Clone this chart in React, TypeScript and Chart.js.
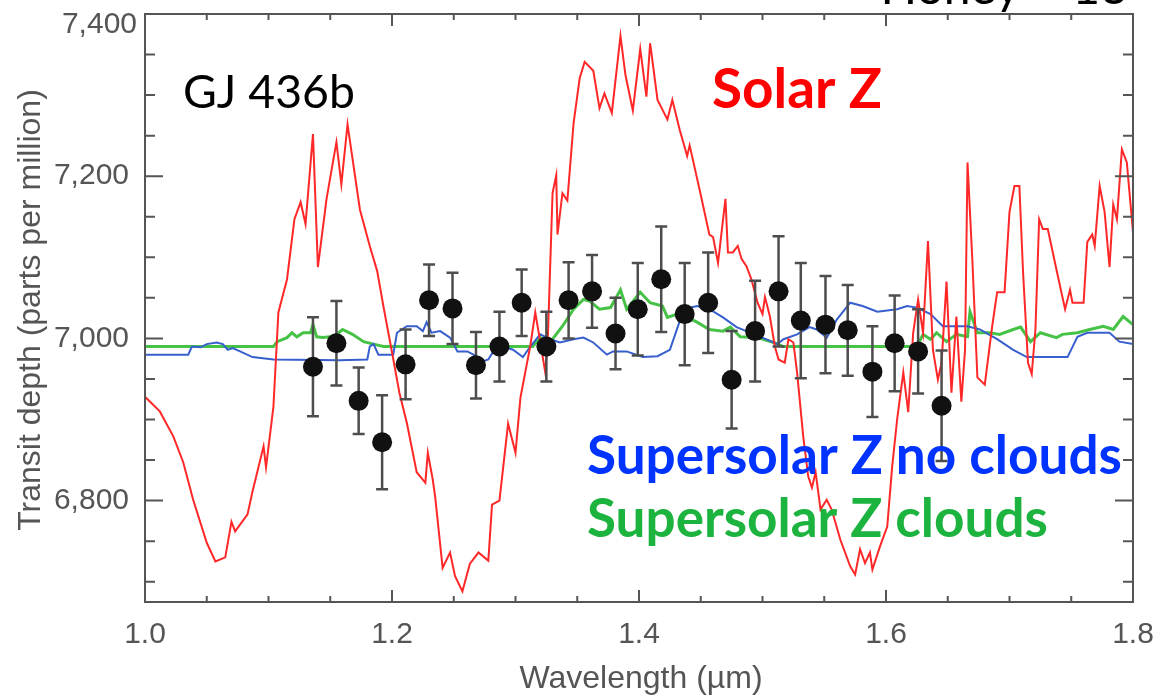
import React, { useEffect, useRef } from "react";
import { Chart, registerables } from "chart.js";

Chart.register(...registerables);

// ---- Data ----
const obsWavelength = [1.136, 1.155, 1.173, 1.192, 1.211, 1.230, 1.249, 1.268, 1.287, 1.305, 1.325, 1.343, 1.362, 1.381,
  1.399, 1.418, 1.437, 1.456, 1.475, 1.494, 1.513, 1.531, 1.551, 1.569, 1.589, 1.607, 1.626, 1.645];
const obsDepth = [6965, 6994, 6923, 6872, 6968, 7047, 7037, 6967, 6990, 7044, 6990, 7047, 7058, 7006,
  7036, 7073, 7030, 7044, 6949, 7009, 7058, 7022, 7017, 7010, 6959, 6994, 6984, 6917];
const obsError = [61, 52, 41, 58, 43, 44, 44, 41, 43, 41, 43, 47, 45, 44,
  57, 65, 63, 62, 60, 62, 68, 71, 60, 56, 56, 59, 52, 68];

const solarWavelength = [1.000, 1.012, 1.023, 1.031, 1.039, 1.050, 1.057, 1.065, 1.070, 1.073, 1.083, 1.087, 1.096, 1.098,
  1.104, 1.108, 1.115, 1.121, 1.126, 1.130, 1.136, 1.140, 1.147, 1.155, 1.159, 1.164, 1.174, 1.182, 1.188, 1.193,
  1.200, 1.206, 1.212, 1.220, 1.227, 1.229, 1.233, 1.235, 1.241, 1.247, 1.251, 1.257, 1.263, 1.270, 1.278, 1.281,
  1.287, 1.294, 1.300, 1.304, 1.312, 1.316, 1.320, 1.324, 1.326, 1.330, 1.333, 1.334, 1.338, 1.342, 1.347, 1.352,
  1.356, 1.363, 1.368, 1.372, 1.378, 1.385, 1.389, 1.395, 1.401, 1.406, 1.409, 1.415, 1.423, 1.427, 1.433, 1.439,
  1.441, 1.449, 1.457, 1.460, 1.464, 1.470, 1.472, 1.476, 1.480, 1.483, 1.487, 1.491, 1.496, 1.500, 1.502, 1.506,
  1.510, 1.513, 1.518, 1.521, 1.525, 1.528, 1.533, 1.537, 1.540, 1.543, 1.547, 1.552, 1.556, 1.563, 1.571, 1.575,
  1.579, 1.583, 1.587, 1.589, 1.595, 1.601, 1.605, 1.609, 1.614, 1.618, 1.622, 1.626, 1.630, 1.634, 1.638, 1.642,
  1.645, 1.649, 1.653, 1.657, 1.661, 1.664, 1.666, 1.670, 1.674, 1.680, 1.686, 1.690, 1.696, 1.700, 1.704, 1.708,
  1.711, 1.715, 1.718, 1.721, 1.724, 1.727, 1.731, 1.738, 1.745, 1.749, 1.751, 1.760, 1.763, 1.767, 1.769, 1.773,
  1.777, 1.781, 1.784, 1.787, 1.791, 1.795, 1.800];
const solarDepth = [6928, 6910, 6879, 6847, 6801, 6748, 6725, 6730, 6774, 6762, 6783, 6811, 6867, 6841,
  6916, 7032, 7073, 7147, 7168, 7141, 7252, 7088, 7172, 7242, 7190, 7264, 7159, 7114, 7083, 7040,
  6983, 6933, 6896, 6835, 6822, 6859, 6826, 6804, 6717, 6736, 6707, 6688, 6722, 6736, 6726, 6795,
  6800, 6895, 6859, 6927, 6991, 7032, 6996, 6959, 6991, 7179, 7201, 7128, 7179, 7170, 7265, 7321,
  7341, 7330, 7284, 7302, 7278, 7373, 7325, 7281, 7357, 7298, 7364, 7294, 7270, 7294, 7257, 7225,
  7238, 7184, 7128, 7125, 7093, 7172, 7106, 7106, 7114, 7098, 7089, 7073, 7044, 7030, 7051, 7027,
  6990, 6974, 6970, 6999, 6995, 6958, 6879, 6830, 6816, 6835, 6789, 6801, 6789, 6752, 6719, 6709,
  6740, 6723, 6736, 6715, 6743, 6768, 6842, 6900, 6958, 6909, 7007, 7048, 7007, 7120, 6986, 6949,
  6970, 7070, 6933, 7027, 6922, 6986, 7217, 7094, 6952, 6943, 7015, 7057, 7057, 7156, 7188, 7188,
  7081, 6970, 6956, 7011, 7147, 7135, 7135, 7085, 7036, 7060, 7044, 7044, 7119, 7128, 7114, 7188,
  7156, 7088, 7165, 7147, 7233, 7217, 7131];

const noCloudWavelength = [1.000, 1.035, 1.038, 1.045, 1.050, 1.058, 1.063, 1.067, 1.071, 1.077, 1.087, 1.104, 1.158, 1.180,
  1.182, 1.185, 1.189, 1.201, 1.204, 1.212, 1.220, 1.225, 1.228, 1.232, 1.239, 1.247, 1.253, 1.261, 1.266, 1.274,
  1.278, 1.282, 1.290, 1.298, 1.306, 1.312, 1.320, 1.328, 1.336, 1.347, 1.355, 1.363, 1.374, 1.379, 1.390, 1.403,
  1.415, 1.425, 1.432, 1.436, 1.447, 1.457, 1.468, 1.479, 1.487, 1.500, 1.512, 1.517, 1.528, 1.538, 1.544, 1.552,
  1.560, 1.571, 1.581, 1.593, 1.609, 1.617, 1.625, 1.636, 1.646, 1.666, 1.676, 1.690, 1.703, 1.714, 1.747, 1.755,
  1.763, 1.781, 1.789, 1.800];
const noCloudDepth = [6980, 6980, 6990, 6989, 6993, 6995, 6993, 6986, 6988, 6984, 6977, 6974, 6973, 6974,
  6990, 6993, 6980, 6980, 7007, 7015, 7015, 7009, 7020, 7007, 7009, 7001, 6984, 6984, 6980, 6972,
  6974, 6984, 6990, 6986, 6977, 6990, 7005, 6999, 6995, 6999, 7001, 6995, 6980, 6984, 6984, 6977,
  6978, 6986, 7017, 7036, 7040, 7036, 7026, 7014, 7009, 7001, 6993, 6999, 7005, 7014, 7011, 7001,
  7023, 7044, 7040, 7033, 7036, 7040, 7038, 7030, 7015, 7015, 7011, 6999, 6986, 6977, 6977, 7002,
  7007, 7007, 6996, 6993];

const cloudWavelength = [1.000, 1.104, 1.107, 1.115, 1.119, 1.123, 1.128, 1.134, 1.136, 1.139, 1.144, 1.150, 1.155, 1.160,
  1.168, 1.177, 1.185, 1.193, 1.314, 1.320, 1.328, 1.338, 1.347, 1.355, 1.360, 1.368, 1.377, 1.385, 1.390, 1.401,
  1.409, 1.419, 1.423, 1.431, 1.439, 1.447, 1.457, 1.468, 1.474, 1.482, 1.496, 1.509, 1.517, 1.625, 1.630, 1.636,
  1.641, 1.649, 1.657, 1.666, 1.668, 1.674, 1.684, 1.692, 1.703, 1.709, 1.717, 1.725, 1.738, 1.743, 1.755, 1.765,
  1.776, 1.784, 1.792, 1.800];
const cloudDepth = [6990, 6990, 6996, 7001, 7007, 7002, 7007, 7007, 7017, 7002, 7001, 7002, 7005, 7011,
  7005, 6996, 6993, 6990, 6990, 7001, 6995, 7015, 7036, 7048, 7046, 7036, 7038, 7060, 7036, 7057,
  7044, 7040, 7026, 7030, 7026, 7020, 7011, 7009, 7014, 7002, 7001, 6995, 6990, 6990, 7005, 6999,
  7007, 6996, 7005, 7002, 7033, 7007, 7007, 7005, 7011, 7014, 6996, 7007, 7001, 7005, 7007, 7011,
  7015, 7011, 7027, 7017];

const xMajorTicks = [1.0, 1.2, 1.4, 1.6, 1.8];
const xMinorTicks = [1.05, 1.1, 1.15, 1.25, 1.3, 1.35, 1.45, 1.5, 1.55, 1.65, 1.7, 1.75];
const yMajorTicks = [6800, 7000, 7200, 7400];
const yMinorTicks = [6700, 6750, 6850, 6900, 6950, 7050, 7100, 7150, 7250, 7300, 7350];

const AXIS_FONT = "'Liberation Sans', Arial, sans-serif";
const SLIDE_FONT = "Lato, 'Open Sans', sans-serif";
const AXIS_GRAY = "#555555";

function pairs(xs: number[], ys: number[]) {
  return xs.map((x, i) => ({ x, y: ys[i] }));
}

function fitText(ctx: CanvasRenderingContext2D, text: string, x: number, y: number, width: number, weight: string, color: string) {
  ctx.font = `${weight} 100px ${SLIDE_FONT}`;
  const w = ctx.measureText(text).width;
  const size = (100 * width) / w;
  ctx.font = `${weight} ${size}px ${SLIDE_FONT}`;
  ctx.fillStyle = color;
  ctx.textAlign = "left";
  ctx.textBaseline = "alphabetic";
  ctx.fillText(text, x, y);
}

const overlayPlugin = {
  id: "overlay",
  beforeDatasetDraw(chart: any, args: any) {
    if (args.index !== 0) return;
    const { ctx, scales } = chart;
    const xs = scales.x, ys = scales.y;
    ctx.save();
    ctx.strokeStyle = "#4d4d4d";
    ctx.lineWidth = 2.5;
    obsWavelength.forEach((w, i) => {
      const px = xs.getPixelForValue(w);
      const top = ys.getPixelForValue(obsDepth[i] + obsError[i]);
      const bot = ys.getPixelForValue(obsDepth[i] - obsError[i]);
      ctx.beginPath();
      ctx.moveTo(px, top); ctx.lineTo(px, bot);
      ctx.moveTo(px - 6, top); ctx.lineTo(px + 6, top);
      ctx.moveTo(px - 6, bot); ctx.lineTo(px + 6, bot);
      ctx.stroke();
    });
    ctx.restore();
  },
  afterDraw(chart: any) {
    const { ctx, chartArea: a, scales } = chart;
    const xs = scales.x, ys = scales.y;
    ctx.save();
    // frame
    ctx.strokeStyle = AXIS_GRAY;
    ctx.lineWidth = 2;
    ctx.strokeRect(a.left, a.top, a.right - a.left, a.bottom - a.top);
    // ticks (inward)
    ctx.beginPath();
    const yTick = (v: number, len: number) => {
      const py = ys.getPixelForValue(v);
      ctx.moveTo(a.left, py); ctx.lineTo(a.left + len, py);
      ctx.moveTo(a.right, py); ctx.lineTo(a.right - len, py);
    };
    const xTick = (v: number, len: number) => {
      const px = xs.getPixelForValue(v);
      ctx.moveTo(px, a.bottom); ctx.lineTo(px, a.bottom - len);
      ctx.moveTo(px, a.top); ctx.lineTo(px, a.top + len);
    };
    yMajorTicks.forEach((v) => yTick(v, 18));
    yMinorTicks.forEach((v) => yTick(v, 10));
    xMajorTicks.forEach((v) => xTick(v, 12));
    xMinorTicks.forEach((v) => xTick(v, 6));
    ctx.stroke();

    // top y label (shifted down like the reference)
    ctx.fillStyle = AXIS_GRAY;
    ctx.font = `30px ${AXIS_FONT}`;
    ctx.textAlign = "right";
    ctx.textBaseline = "middle";
    ctx.fillText((7400).toLocaleString("en-US"), a.left - 8, a.top + 11);

    // axis titles
    ctx.font = `32px ${AXIS_FONT}`;
    ctx.textAlign = "center";
    ctx.textBaseline = "middle";
    ctx.fillText("Wavelength (\u00b5m)", (a.left + a.right) / 2 + 2, 679);
    ctx.save();
    ctx.translate(31, 310);
    ctx.rotate(-Math.PI / 2);
    ctx.fillText("Transit depth (parts per million)", 0, 0);
    ctx.restore();

    // slide annotations
    fitText(ctx, "GJ 436b", 183, 108, 172, "normal", "#000000");
    fitText(ctx, "Solar Z", 712, 108, 170, "bold", "#ff0000");
    fitText(ctx, "Supersolar Z no clouds", 587, 474, 535, "bold", "#0033ff");
    fitText(ctx, "Supersolar Z clouds", 587, 537, 461, "bold", "#1db33f");
    ctx.font = `48px ${SLIDE_FONT}`;
    ctx.fillStyle = "#000";
    ctx.textAlign = "right";
    ctx.textBaseline = "alphabetic";
    ctx.fillText("Honey – 13", 1128, 4);
    ctx.restore();
  },
};

export default function App() {
  const ref = useRef<HTMLCanvasElement | null>(null);
  useEffect(() => {
    if (!ref.current) return;
    const chart = new Chart(ref.current, {
      type: "scatter",
      data: {
        datasets: [
          {
            label: "Observed",
            data: pairs(obsWavelength, obsDepth),
            backgroundColor: "#111111",
            borderWidth: 0,
            pointRadius: 10,
            pointHoverRadius: 10,
          },
          {
            type: "line",
            label: "Solar Z",
            data: pairs(solarWavelength, solarDepth),
            borderColor: "rgb(255,40,40)",
            borderWidth: 2,
            pointRadius: 0,
            tension: 0,
            fill: false,
          },
          {
            type: "line",
            label: "Supersolar Z no clouds",
            data: pairs(noCloudWavelength, noCloudDepth),
            borderColor: "rgb(55,95,205)",
            borderWidth: 2,
            pointRadius: 0,
            tension: 0,
            fill: false,
          },
          {
            type: "line",
            label: "Supersolar Z clouds",
            data: pairs(cloudWavelength, cloudDepth),
            borderColor: "rgb(70,195,70)",
            borderWidth: 3,
            pointRadius: 0,
            tension: 0,
            fill: false,
          },
        ] as any,
      },
      options: {
        responsive: false,
        maintainAspectRatio: false,
        animation: false,
        layout: { padding: { top: 14, right: 22, left: 0, bottom: 0 } },
        plugins: { legend: { display: false }, tooltip: { enabled: false } },
        scales: {
          x: {
            type: "linear",
            min: 1.0,
            max: 1.8,
            afterBuildTicks: (s: any) => { s.ticks = xMajorTicks.map((v) => ({ value: v })); },
            afterFit: (s: any) => { s.height = 95; s.paddingLeft = 0; s.paddingRight = 0; },
            grid: { display: false },
            border: { display: false },
            ticks: {
              color: AXIS_GRAY,
              font: { family: AXIS_FONT, size: 30 },
              padding: 7,
              maxRotation: 0,
              autoSkip: false,
              callback: (v: any) => Number(v).toFixed(1),
            },
          },
          y: {
            type: "linear",
            min: 6675,
            max: 7400,
            afterBuildTicks: (s: any) => { s.ticks = yMajorTicks.map((v) => ({ value: v })); },
            afterFit: (s: any) => { s.width = 145; s.paddingTop = 0; s.paddingBottom = 0; },
            grid: { display: false },
            border: { display: false },
            ticks: {
              color: AXIS_GRAY,
              font: { family: AXIS_FONT, size: 30 },
              padding: 8,
              autoSkip: false,
              callback: (v: any) => (Number(v) === 7400 ? "" : Number(v).toLocaleString("en-US")),
            },
          },
        },
      } as any,
      plugins: [overlayPlugin],
    });
    return () => chart.destroy();
  }, []);

  return (
    <div style={{ position: "fixed", left: 0, top: 0, width: 1155, height: 697, background: "#fff" }}>
      <canvas ref={ref} width={1155} height={697} style={{ display: "block" }} />
    </div>
  );
}
